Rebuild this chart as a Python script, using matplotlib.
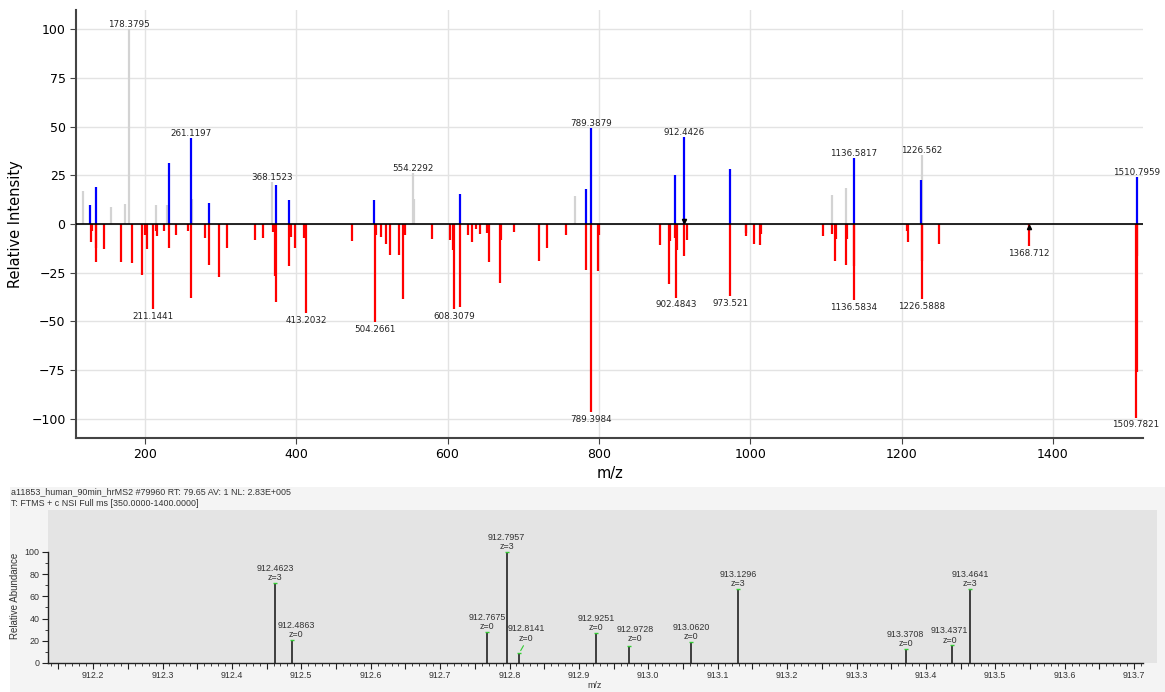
import matplotlib
matplotlib.use("Agg")
import matplotlib.pyplot as plt
import numpy as np
from matplotlib.patches import Rectangle
from matplotlib.ticker import FixedLocator, FuncFormatter

# ---- top panel: mirror spectrum ----
gray_mz = [118.2, 155.7, 174.2, 178.3795, 214.3, 229.2, 262.0, 368.1523,
           554.2292, 555.0, 768.0, 1108.5, 1126.5, 1226.562]
gray_int = [16.8, 8.5, 10.4, 100.0, 9.9, 9.9, 13.0, 21.5,
            26.2, 13.0, 14.5, 15.0, 18.5, 35.6]

blue_mz = [127.9, 134.9, 231.9, 261.1197, 285.2, 373.7, 390.0, 503.2,
           616.9, 783.0, 789.3879, 900.6, 912.4426, 972.8, 1136.5817,
           1226.1, 1510.7959]
blue_int = [9.9, 18.8, 31.3, 44.1, 10.9, 20.2, 12.3, 12.3,
            15.4, 18.1, 49.4, 25.1, 44.6, 28.2, 33.8,
            22.4, 24.1]

red_mz = [128.8, 129.7, 134.9, 135.5, 146.0, 168.0, 182.5, 195.7, 200.6,
          202.4, 211.1441, 214.3, 215.6, 225.3, 231.9, 241.6, 257.0, 260.5,
          279.4, 285.2, 297.5, 309.0, 345.5, 355.6, 369.7, 372.4, 373.7,
          390.0, 393.5, 398.8, 410.7, 413.2032, 474.1, 504.2661, 505.0,
          512.5, 519.1, 524.4, 536.2, 541.1, 543.3, 579.0, 602.8, 607.4,
          608.3079, 616.9, 626.6, 632.3, 637.1, 642.9, 652.1, 654.7, 669.7,
          670.5, 687.4, 720.4, 731.4, 756.1, 783.0, 789.3984, 799.2, 800.5,
          881.2, 893.1, 894.4, 900.6, 902.4843, 903.3, 912.0, 916.4,
          973.521, 993.9, 994.8, 1005.4, 1013.3, 1014.2, 1095.7, 1108.5,
          1112.4, 1113.7, 1126.5, 1127.5, 1136.5834, 1137.5, 1207.2, 1208.5,
          1226.5888, 1227.5, 1249.5, 1368.712, 1509.7821, 1510.5, 1511.0]
red_int = [9.3, 3.8, 19.7, 12.3, 12.8, 19.7, 20.2, 26.0, 5.5,
           12.6, 43.9, 3.6, 6.0, 3.8, 12.3, 5.5, 3.8, 37.9,
           7.4, 20.9, 27.4, 12.3, 8.2, 7.4, 4.1, 26.8, 40.0,
           21.7, 6.7, 12.3, 7.4, 45.6, 8.5, 50.4, 5.5,
           6.7, 10.3, 16.1, 15.7, 38.8, 5.5, 7.7, 8.0, 13.2,
           43.9, 42.6, 5.5, 9.2, 2.6, 5.0, 4.6, 19.7, 30.3,
           8.0, 4.1, 18.8, 12.3, 5.5, 23.6, 96.6, 24.0, 5.5,
           10.6, 30.8, 8.9, 7.2, 37.8, 13.2, 16.6, 8.0,
           37.1, 6.0, 4.5, 10.1, 10.9, 5.0, 6.3, 5.0,
           18.8, 7.7, 21.2, 7.7, 39.3, 21.4, 3.8, 9.2,
           38.5, 18.8, 10.1, 11.5, 99.5, 76.1, 16.6]

top_labels = [178.3795, 261.1197, 368.1523, 554.2292, 789.3879, 912.4426,
              1136.5817, 1226.562, 1510.7959]
top_label_int = [100.0, 44.1, 21.5, 26.2, 49.4, 44.6, 33.8, 35.6, 24.1]
bottom_labels = [211.1441, 413.2032, 504.2661, 608.3079, 789.3984, 902.4843,
                 973.521, 1136.5834, 1226.5888, 1368.712, 1509.7821]
bottom_label_int = [43.9, 45.6, 50.4, 43.9, 96.6, 37.8, 37.1, 39.3, 38.5,
                    11.5, 99.5]

precursor_mz = [912.4426, 1368.712]

# ---- bottom panel: Xcalibur zoom ----
iso_mz = [912.4623, 912.4863, 912.7675, 912.7957, 912.8141, 912.9251,
          912.9728, 913.0620, 913.1296, 913.3708, 913.4371, 913.4641]
iso_int = [72, 21, 28, 100, 9, 27, 15, 19, 67, 13, 16, 67]
iso_z = [3, 0, 0, 3, 0, 0, 0, 0, 3, 0, 0, 3]
header1 = "a11853_human_90min_hrMS2 #79960 RT: 79.65 AV: 1 NL: 2.83E+005"
header2 = "T: FTMS + c NSI Full ms [350.0000-1400.0000]"

W, H = 1165, 692
fig = plt.figure(figsize=(W / 100, H / 100), dpi=100)


def box(l, t, r, b):
    return [l / W, 1 - b / H, (r - l) / W, (b - t) / H]


ax = fig.add_axes(box(76, 10, 1143, 438))
ax.vlines(gray_mz, 0, gray_int, color='#d3d3d3', lw=1.6, zorder=2)
ax.vlines(blue_mz, 0, blue_int, color='blue', lw=1.6, zorder=3)
ax.vlines(red_mz, 0, [-v for v in red_int], color='red', lw=1.6, zorder=3)
ax.axhline(0, color='black', lw=1.2, zorder=4)
ax.plot([precursor_mz[0]], [1.6], marker='v', color='black', ms=3, zorder=5)
ax.plot([precursor_mz[1]], [-1.3], marker='^', color='black', ms=3, zorder=5)

for mz, v in zip(top_labels, top_label_int):
    ax.text(mz, v, str(mz), ha='center', va='bottom', fontsize=6.3,
            color='#222222', zorder=6)
for mz, v in zip(bottom_labels, bottom_label_int):
    ax.text(mz, -v - 1.5, str(mz), ha='center', va='top', fontsize=6.3,
            color='#222222', zorder=6)

ax.set_xlim(109, 1519)
ax.set_ylim(-110, 110)
ax.set_xticks([200, 400, 600, 800, 1000, 1200, 1400])
ax.set_yticks([-100, -75, -50, -25, 0, 25, 50, 75, 100])
ax.grid(True, color='#e3e3e3', lw=1)
ax.set_axisbelow(True)
for s in ['top', 'right']:
    ax.spines[s].set_visible(False)
for s in ['left', 'bottom']:
    ax.spines[s].set_color('#444444')
    ax.spines[s].set_linewidth(1.5)
ax.tick_params(labelsize=9, length=4, color='#444444')
ax.set_xlabel('m/z', fontsize=10.5, labelpad=3)
ax.set_ylabel('Relative Intensity', fontsize=10.5, labelpad=6)

# ---- bottom panel ----
fig.patches.append(Rectangle((10 / W, 0), (W - 10) / W, (H - 487) / H,
                             transform=fig.transFigure, facecolor='#f4f4f4',
                             edgecolor='none', zorder=-10))
small = dict(family='Liberation Sans', fontsize=6.4, color='#333333')
fig.text(11 / W, 1 - 487 / H, header1, va='top', **small)
fig.text(11 / W, 1 - 499 / H, header2, va='top', **small)

xmin, xmax, xend = 912.135, 913.733, 913.713
bx = fig.add_axes(box(48, 510, 1157, 663))
bx.set_facecolor('#e4e4e4')
bx.vlines(iso_mz, 0, iso_int, color='#222222', lw=1.2)
bx.plot(iso_mz, iso_int, ls='none', marker='_', color='#33cc33', ms=3, mew=1)

offsets = {912.4863: (3, 0), 912.8141: (5, 7), 912.9728: (4, 2),
           913.4371: (-1.5, 0)}
for mz, v, z in zip(iso_mz, iso_int, iso_z):
    dx, dy = offsets.get(mz, (0, 0))
    bx.annotate(f"{mz:.4f}\nz={z}", (mz, v), xytext=(dx, dy + 0.5),
                textcoords='offset points', ha='center', va='bottom',
                linespacing=1.05, annotation_clip=False, **small)
    if dy > 3:
        bx.annotate("", (mz, v), xytext=(dx - 1, dy),
                    textcoords='offset points',
                    arrowprops=dict(arrowstyle='-', color='#33cc33', lw=0.8))

for s in ['top', 'right']:
    bx.spines[s].set_visible(False)
bx.spines['left'].set_bounds(0, 100)
bx.spines['bottom'].set_bounds(xmin, xend)
for s in ['left', 'bottom']:
    bx.spines[s].set_color('#222222')
    bx.spines[s].set_linewidth(1.0)
bx.set_yticks([0, 20, 40, 60, 80, 100])
bx.yaxis.set_minor_locator(FixedLocator([10, 30, 50, 70, 90]))
major_x = np.round(np.arange(912.15, xend, 0.05), 2)
minor_x = np.round(np.arange(912.14, xend, 0.01), 2)
bx.xaxis.set_major_locator(FixedLocator(major_x))
bx.xaxis.set_minor_locator(FixedLocator(minor_x))
bx.xaxis.set_major_formatter(FuncFormatter(
    lambda v, p: f"{v:.1f}" if abs(round(v * 10) - v * 10) < 1e-6 else ""))
bx.set_xlim(xmin, xmax)
bx.set_ylim(0, 137.8)
bx.tick_params(which='major', length=4, width=0.8, color='#222222',
               labelsize=6.4, labelcolor='#333333', pad=2)
bx.tick_params(which='minor', length=2, width=0.6, color='#222222')
for lab in bx.get_xticklabels() + bx.get_yticklabels():
    lab.set_family('Liberation Sans')
fig.text(595 / W, 1 - 686 / H, 'm/z', ha='center', va='center', **small)
fig.text(15 / W, 1 - 596 / H, 'Relative Abundance', rotation=90,
         ha='center', va='center', family='Liberation Sans', fontsize=7,
         color='#333333')

fig.savefig('out.png', dpi=100)
